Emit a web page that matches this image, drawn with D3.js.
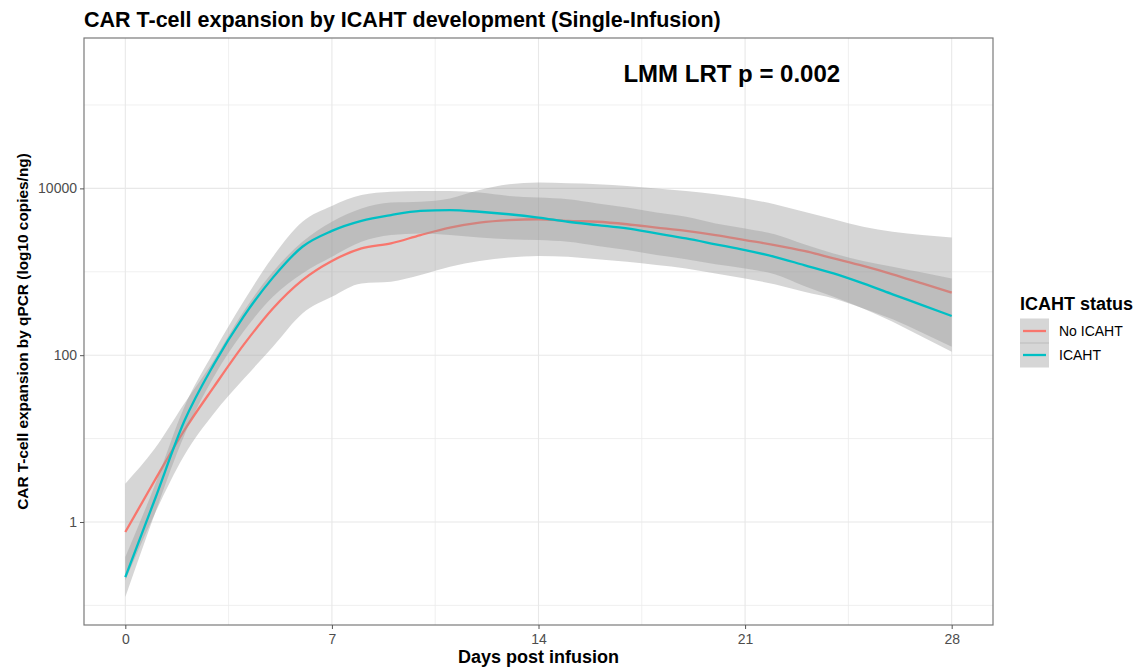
<!DOCTYPE html>
<html>
<head>
<meta charset="utf-8">
<script src="https://cdn.jsdelivr.net/npm/d3@7"></script>
<style>
  html, body { margin: 0; padding: 0; background: #ffffff; }
  svg { display: block; }
  text { font-family: "Liberation Sans", Arial, Helvetica, sans-serif; }
</style>
</head>
<body>
<svg id="chart" width="1142" height="672"></svg>
<script>
// Smoothed CAR T-cell levels (log10 copies/ng) with 95% confidence limits, by day post infusion
const days = d3.range(0, 29);

const noIcahtFit = [-0.12, 0.50, 1.10, 1.62, 2.12, 2.56, 2.90, 3.13, 3.28, 3.34, 3.44, 3.53, 3.59, 3.62, 3.63,
                    3.61, 3.60, 3.57, 3.53, 3.49, 3.44, 3.38, 3.32, 3.25, 3.16, 3.07, 2.97, 2.86, 2.75];
const noIcahtLower = [-0.70, 0.10, 0.80, 1.30, 1.71, 2.10, 2.50, 2.70, 2.86, 2.88, 2.96, 3.06, 3.13, 3.17, 3.19,
                      3.18, 3.15, 3.12, 3.08, 3.04, 2.98, 2.92, 2.85, 2.76, 2.68, 2.56, 2.43, 2.27, 2.10];
const noIcahtUpper = [0.46, 0.88, 1.42, 1.94, 2.52, 3.00, 3.36, 3.60, 3.76, 3.83, 3.84, 3.88, 3.98, 4.05, 4.07,
                      4.06, 4.05, 4.03, 4.00, 3.97, 3.93, 3.88, 3.81, 3.72, 3.63, 3.54, 3.48, 3.44, 3.41];

const icahtFit = [-0.66, 0.27, 1.21, 1.89, 2.46, 2.93, 3.30, 3.49, 3.61, 3.68, 3.73, 3.74, 3.72, 3.69, 3.65,
                  3.60, 3.56, 3.52, 3.46, 3.40, 3.33, 3.26, 3.18, 3.08, 2.98, 2.86, 2.73, 2.60, 2.47];
const icahtLower = [-0.90, 0.10, 1.04, 1.74, 2.28, 2.70, 2.98, 3.18, 3.36, 3.44, 3.46, 3.44, 3.41, 3.39, 3.38,
                    3.36, 3.31, 3.26, 3.20, 3.15, 3.09, 3.04, 2.97, 2.83, 2.70, 2.56, 2.40, 2.22, 2.04];
const icahtUpper = [-0.42, 0.44, 1.38, 2.04, 2.64, 3.18, 3.60, 3.79, 3.92, 3.96, 3.97, 3.97, 3.95, 3.91, 3.89,
                    3.87, 3.82, 3.77, 3.71, 3.66, 3.58, 3.52, 3.45, 3.33, 3.22, 3.13, 3.06, 2.99, 2.92];

const groupNames = ["No ICAHT", "ICAHT"];
const groupColors = ["#F8766D", "#00BFC4"];

const xTicks = [0, 7, 14, 21, 28];
const xMinorTicks = [3.5, 10.5, 17.5, 24.5];
const yTicks = [1, 100, 10000];
const yMinorTicks = [0.1, 10, 1000, 100000];
const yTickLabels = ["1", "100", "10000"];

const titleText = "CAR T-cell expansion by ICAHT development (Single-Infusion)";
const xTitle = "Days post infusion";
const yTitle = "CAR T-cell expansion by qPCR (log10 copies/ng)";
const legendTitle = "ICAHT status";
const annotationText = "LMM LRT p = 0.002";
const annotationPos = { day: 20.55, value: Math.pow(10, 5.38) };

// ---- layout ----
const panel = { left: 84, right: 993, top: 38, bottom: 625 };

const x = d3.scaleLinear().domain([-1.4, 29.4]).range([panel.left, panel.right]);
const y = d3.scaleLog().domain([Math.pow(10, -1.235), Math.pow(10, 5.803)]).range([panel.bottom, panel.top]);

const svg = d3.select("#chart");
svg.append("rect").attr("width", 1142).attr("height", 672).attr("fill", "#ffffff");

// grid
const grid = svg.append("g");
grid.selectAll(".ymin").data(yMinorTicks).join("line")
  .attr("x1", panel.left).attr("x2", panel.right)
  .attr("y1", d => y(d)).attr("y2", d => y(d))
  .attr("stroke", "#ebebeb").attr("stroke-width", 0.8);
grid.selectAll(".xmin").data(xMinorTicks).join("line")
  .attr("y1", panel.top).attr("y2", panel.bottom)
  .attr("x1", d => x(d)).attr("x2", d => x(d))
  .attr("stroke", "#ebebeb").attr("stroke-width", 0.8);
grid.selectAll(".ymaj").data(yTicks).join("line")
  .attr("x1", panel.left).attr("x2", panel.right)
  .attr("y1", d => y(d)).attr("y2", d => y(d))
  .attr("stroke", "#e8e8e8").attr("stroke-width", 1.1);
grid.selectAll(".xmaj").data(xTicks).join("line")
  .attr("y1", panel.top).attr("y2", panel.bottom)
  .attr("x1", d => x(d)).attr("x2", d => x(d))
  .attr("stroke", "#e8e8e8").attr("stroke-width", 1.1);

// smooths: ribbon then line for each group, in group order
const groups = [
  { fit: noIcahtFit, lo: noIcahtLower, hi: noIcahtUpper },
  { fit: icahtFit, lo: icahtLower, hi: icahtUpper }
];
const curve = d3.curveMonotoneX;
const area = d3.area()
  .x(d => x(d.day)).y0(d => y(Math.pow(10, d.lo))).y1(d => y(Math.pow(10, d.hi)))
  .curve(curve);
const line = d3.line()
  .x(d => x(d.day)).y(d => y(Math.pow(10, d.fit)))
  .curve(curve);

const marks = svg.append("g");
groups.forEach((g, gi) => {
  const rows = days.map((day, i) => ({ day, fit: g.fit[i], lo: g.lo[i], hi: g.hi[i] }));
  marks.append("path").datum(rows)
    .attr("d", area)
    .attr("fill", "#999999").attr("fill-opacity", 0.4);
  marks.append("path").datum(rows)
    .attr("d", line)
    .attr("fill", "none")
    .attr("stroke", groupColors[gi]).attr("stroke-width", 2.3)
    .attr("stroke-linejoin", "round");
});

// annotation
svg.append("text")
  .attr("x", x(annotationPos.day)).attr("y", y(annotationPos.value))
  .attr("text-anchor", "middle").attr("dominant-baseline", "central")
  .attr("font-size", 24).attr("font-weight", "bold").attr("fill", "#000")
  .text(annotationText);

// panel border
svg.append("rect")
  .attr("x", panel.left).attr("y", panel.top)
  .attr("width", panel.right - panel.left).attr("height", panel.bottom - panel.top)
  .attr("fill", "none").attr("stroke", "#7a7a7a").attr("stroke-width", 1.2);

// axes
const xAxis = d3.axisBottom(x).tickValues(xTicks).tickSize(4).tickPadding(5);
const gx = svg.append("g").attr("transform", `translate(0,${panel.bottom})`).call(xAxis);
gx.select(".domain").remove();
gx.selectAll(".tick line").attr("stroke", "#555");
gx.selectAll(".tick text").attr("fill", "#4d4d4d").attr("font-size", 14)
  .attr("font-family", "Liberation Sans, Arial, sans-serif");

const yAxis = d3.axisLeft(y).tickValues(yTicks).tickFormat((d, i) => yTickLabels[i]).tickSize(4).tickPadding(3);
const gy = svg.append("g").attr("transform", `translate(${panel.left},0)`).call(yAxis);
gy.select(".domain").remove();
gy.selectAll(".tick line").attr("stroke", "#555");
gy.selectAll(".tick text").attr("fill", "#4d4d4d").attr("font-size", 14)
  .attr("font-family", "Liberation Sans, Arial, sans-serif");

// titles
svg.append("text").attr("x", panel.left).attr("y", 27)
  .attr("font-size", 21.5).attr("font-weight", "bold").attr("fill", "#000")
  .text(titleText);
svg.append("text").attr("x", (panel.left + panel.right) / 2).attr("y", 663)
  .attr("text-anchor", "middle").attr("font-size", 18).attr("font-weight", "bold").attr("fill", "#000")
  .text(xTitle);
svg.append("text")
  .attr("transform", `translate(28,${(panel.top + panel.bottom) / 2}) rotate(-90)`)
  .attr("text-anchor", "middle").attr("font-size", 15.4).attr("font-weight", "bold").attr("fill", "#000")
  .text(yTitle);

// legend
const legend = svg.append("g").attr("transform", "translate(1020,0)");
legend.append("text").attr("x", 0).attr("y", 310)
  .attr("font-size", 18).attr("font-weight", "bold").attr("fill", "#000")
  .text(legendTitle);
groupNames.forEach((name, i) => {
  const cy = 331 + i * 24;
  legend.append("rect").attr("x", 0).attr("y", cy - 12.5).attr("width", 29).attr("height", 25)
    .attr("fill", "#999999").attr("fill-opacity", 0.4);
  legend.append("line").attr("x1", 3).attr("x2", 26).attr("y1", cy).attr("y2", cy)
    .attr("stroke", groupColors[i]).attr("stroke-width", 2.3);
  legend.append("text").attr("x", 39).attr("y", cy).attr("dominant-baseline", "central")
    .attr("font-size", 14).attr("fill", "#000").text(name);
});
</script>
</body>
</html>
